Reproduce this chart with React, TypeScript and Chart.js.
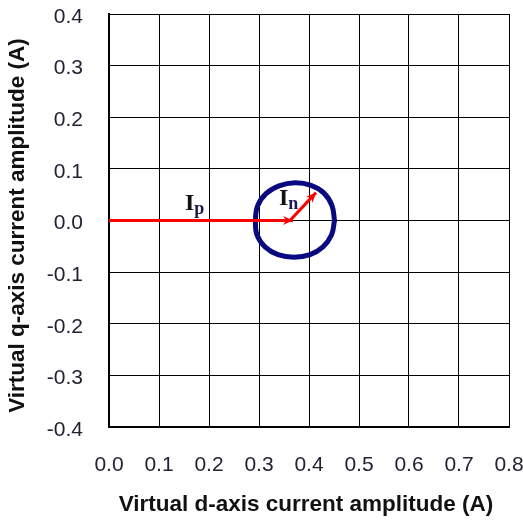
import React, { useEffect, useRef } from "react";
import { Chart, registerables } from "chart.js";

Chart.register(...registerables);

// Axis ranges and labels
const xMin = 0.0;
const xMax = 0.8;
const yMin = -0.4;
const yMax = 0.4;
const tickStep = 0.1;
const xTitle = "Virtual d-axis current amplitude (A)";
const yTitle = "Virtual q-axis current amplitude (A)";

// Trajectory of the current vector tip
const circleX = [0.451, 0.446, 0.43, 0.404, 0.372, 0.34, 0.314, 0.297, 0.293, 0.296, 0.312, 0.338, 0.37, 0.402, 0.428, 0.445, 0.451];
const circleY = [0.0, 0.029, 0.053, 0.068, 0.073, 0.067, 0.052, 0.028, 0.0, -0.028, -0.051, -0.066, -0.071, -0.066, -0.051, -0.028, 0.0];

// Positive-sequence vector Ip
const ipX = [0.0, 0.368];
const ipY = [0.0, 0.0];
// Negative-sequence vector In
const inX = [0.362, 0.414];
const inY = [0.0, 0.054];

// Label anchors (data coordinates)
const labels = [
  { main: "I", sub: "p", x: 0.152, y: 0.02 },
  { main: "I", sub: "n", x: 0.34, y: 0.03 },
];

const toPts = (xs: number[], ys: number[]) => xs.map((x, i) => ({ x, y: ys[i] }));

const overlayPlugin = {
  id: "overlay",
  afterDatasetsDraw(chart: any) {
    const ctx = chart.ctx;
    const xs = chart.scales.x;
    const ys = chart.scales.y;
    const drawHead = (xArr: number[], yArr: number[]) => {
      const n = xArr.length;
      const x1 = xs.getPixelForValue(xArr[n - 2]);
      const y1 = ys.getPixelForValue(yArr[n - 2]);
      const x2 = xs.getPixelForValue(xArr[n - 1]);
      const y2 = ys.getPixelForValue(yArr[n - 1]);
      const a = Math.atan2(y2 - y1, x2 - x1);
      const len = 11;
      const half = 0.42;
      ctx.save();
      ctx.fillStyle = "#ff0000";
      ctx.beginPath();
      ctx.moveTo(x2, y2);
      ctx.lineTo(x2 - len * Math.cos(a - half), y2 - len * Math.sin(a - half));
      ctx.lineTo(x2 - len * 0.6 * Math.cos(a), y2 - len * 0.6 * Math.sin(a));
      ctx.lineTo(x2 - len * Math.cos(a + half), y2 - len * Math.sin(a + half));
      ctx.closePath();
      ctx.fill();
      ctx.restore();
    };
    drawHead(ipX, ipY);
    drawHead(inX, inY);

    ctx.save();
    labels.forEach((l) => {
      const px = xs.getPixelForValue(l.x);
      const py = ys.getPixelForValue(l.y);
      ctx.fillStyle = "#111111";
      ctx.textBaseline = "alphabetic";
      ctx.textAlign = "left";
      ctx.font = "bold 24px 'Liberation Serif'";
      ctx.fillText(l.main, px, py);
      const w = ctx.measureText(l.main).width;
      ctx.fillStyle = "#1a1a50";
      ctx.font = "bold 18px 'Liberation Serif'";
      ctx.fillText(l.sub, px + w, py + 4);
    });
    ctx.restore();
  },
  afterDraw(chart: any) {
    const ctx = chart.ctx;
    const ca = chart.chartArea;
    ctx.save();
    ctx.fillStyle = "#111111";
    ctx.font = "bold 22.5px 'Liberation Sans'";
    ctx.textAlign = "center";
    ctx.textBaseline = "middle";
    ctx.fillText(xTitle, (ca.left + ca.right) / 2 - 3, 505);
    ctx.translate(18, (ca.top + ca.bottom) / 2 + 5);
    ctx.rotate(-Math.PI / 2);
    ctx.fillText(yTitle, 0, 0);
    ctx.restore();
  },
};

export default function App() {
  const ref = useRef<HTMLCanvasElement>(null);
  useEffect(() => {
    if (!ref.current) return;
    const chart = new Chart(ref.current, {
      type: "scatter",
      data: {
        datasets: [
          {
            data: toPts(ipX, ipY),
            showLine: true,
            borderColor: "#ff0000",
            borderWidth: 3,
            pointRadius: 0,
            order: 0,
          },
          {
            data: toPts(inX, inY),
            showLine: true,
            borderColor: "#ff0000",
            borderWidth: 3,
            pointRadius: 0,
            order: 0,
          },
          {
            data: toPts(circleX, circleY),
            showLine: true,
            borderColor: "#0a0a80",
            borderWidth: 5,
            pointRadius: 0,
            tension: 0.4,
            order: 1,
          },
        ],
      },
      options: {
        responsive: false,
        animation: false,
        events: [],
        layout: { padding: { left: 0, right: 14, top: 14, bottom: 0 } },
        plugins: { legend: { display: false }, tooltip: { enabled: false } },
        scales: {
          x: {
            type: "linear",
            min: xMin,
            max: xMax,
            ticks: {
              stepSize: tickStep,
              padding: 26,
              color: "#222233",
              font: { family: "'Liberation Sans'", size: 21 },
              callback: (v: any) => Number(v).toFixed(1),
              maxRotation: 0,
            },
            grid: { color: "#000000", lineWidth: 1, drawTicks: false },
            border: { color: "#000000", width: 2 },
            afterFit: (s: any) => {
              s.height = 94;
              s.paddingLeft = 0;
              s.paddingRight = 0;
            },
          },
          y: {
            type: "linear",
            min: yMin,
            max: yMax,
            ticks: {
              stepSize: tickStep,
              padding: 26,
              labelOffset: 3,
              color: "#222233",
              font: { family: "'Liberation Sans'", size: 21 },
              callback: (v: any) => Number(v).toFixed(1),
            },
            grid: { color: "#000000", lineWidth: 1, drawTicks: false },
            border: { color: "#000000", width: 2 },
            afterFit: (s: any) => {
              s.width = 109;
              s.paddingTop = 0;
              s.paddingBottom = 0;
            },
          },
        },
      },
      plugins: [overlayPlugin],
    });
    return () => chart.destroy();
  }, []);
  return (
    <div style={{ position: "absolute", left: 0, top: 0, width: 523, height: 521, background: "#fff" }}>
      <canvas ref={ref} width={523} height={521} />
    </div>
  );
}
